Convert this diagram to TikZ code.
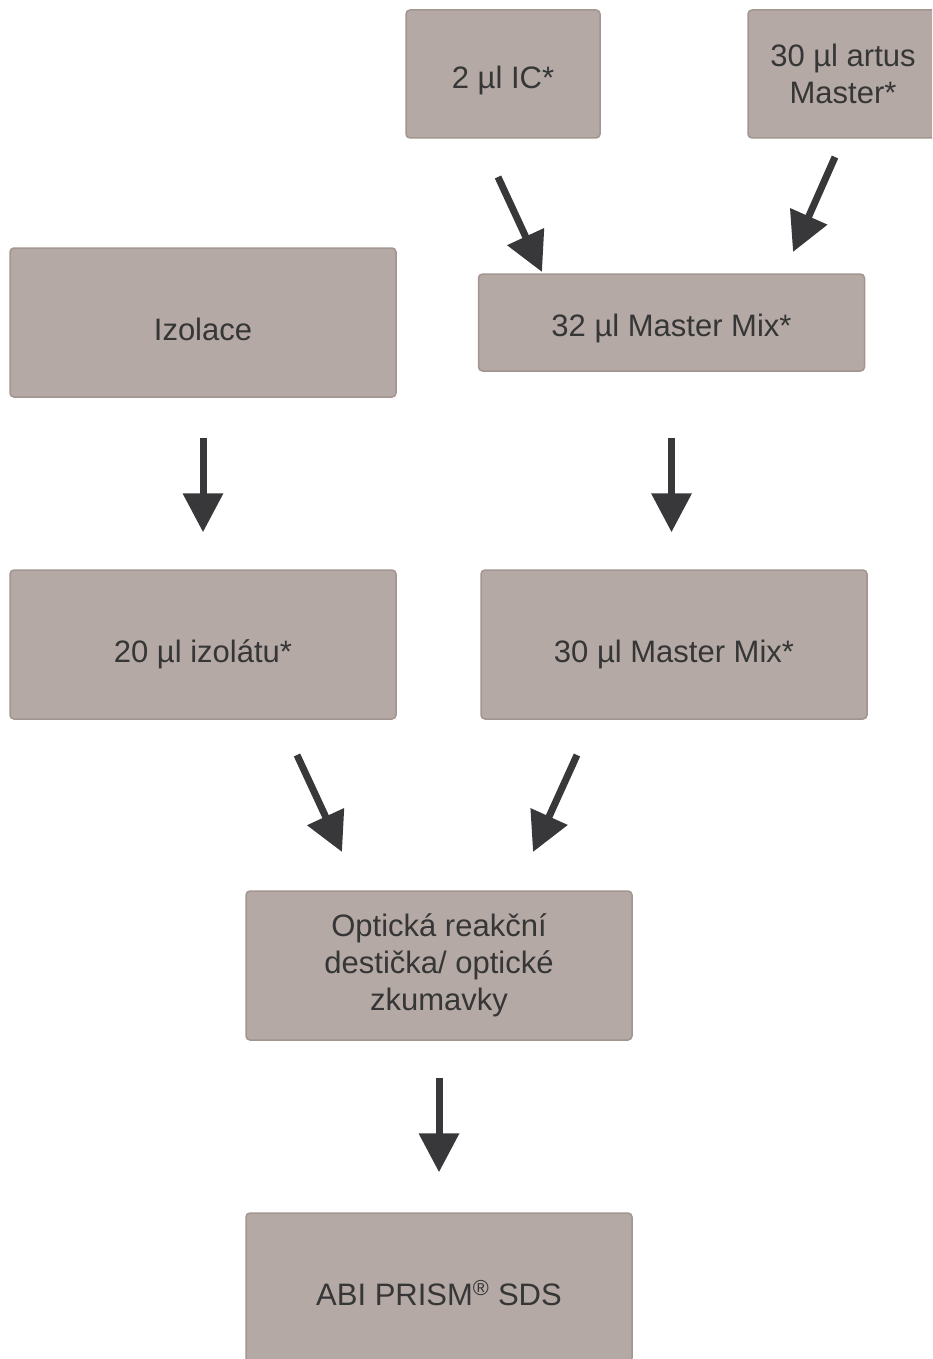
\documentclass[tikz,border=0pt]{standalone}
\usepackage{fontspec}
\setmainfont{Liberation Sans}
\usetikzlibrary{arrows.meta}
\definecolor{boxFill}{HTML}{B4A9A5}
\definecolor{boxLine}{HTML}{A3958F}
\definecolor{arrowGray}{HTML}{38383A}
\definecolor{textGray}{HTML}{363636}

\begin{document}
\begin{tikzpicture}[x=1pt, y=-1pt,
	stepbox/.style={draw=boxLine, fill=boxFill, line width=1.5pt, rounded corners=4pt, minimum width=386pt, minimum height=149pt, inner sep=0pt, align=center, text=textGray, font=\fontsize{31}{37}\selectfont},
	oneline/.style={text height=#1, text depth=0pt},
	flow/.style={-{Triangle[length=39pt, width=39pt]}, line width=7pt, draw=arrowGray, fill=arrowGray}]
\useasboundingbox (0,0) rectangle (932,1359);
\clip (0,0) rectangle (932,1359);

% Draw boxes
\node[stepbox, oneline=29pt, minimum width=194pt, minimum height=128pt] (ic) at (503,74) {2 µl IC*};
\node[stepbox, minimum width=190pt, minimum height=128pt] (artus) at (843,74) {30 µl artus\\Master*};
\node[stepbox, oneline=35pt] (izol) at (203,322.5) {Izolace};
\node[stepbox, oneline=28pt, minimum height=97pt] (mix) at (671.5,322.5) {32 µl Master Mix*};
\node[stepbox, oneline=35pt] (izolat) at (203,644.5) {20 µl izolátu*};
\node[stepbox, oneline=35pt] (mixb) at (674,644.5) {30 µl Master Mix*};
\node[stepbox] (plate) at (439,965.5) {Optická reakční\\destička/ optické\\zkumavky};
\node[stepbox, oneline=35pt] (sds) at (439,1287.5) {ABI PRISM\textsuperscript{®} SDS};

% Draw arrows
\coordinate (icTail) at (498,177);
\coordinate (icHead) at (542,272);
\coordinate (artusTail) at (835,157);
\coordinate (artusHead) at (793,252);
\coordinate (izolatTail) at (297,755);
\coordinate (izolatHead) at (342,852);
\coordinate (mixbTail) at (577,755);
\coordinate (mixbHead) at (533,852);
\draw[flow] (icTail) -- (icHead);
\draw[flow] (artusTail) -- (artusHead);
\draw[flow, shorten <=40pt, shorten >=37pt] (izol.south) -- (izolat.north);
\draw[flow, shorten <=66pt, shorten >=37pt] (mix.south) -- (mix.south |- mixb.north);
\draw[flow] (izolatTail) -- (izolatHead);
\draw[flow] (mixbTail) -- (mixbHead);
\draw[flow, shorten <=37pt, shorten >=40pt] (plate.south) -- (plate.south |- sds.north);
\end{tikzpicture}
\end{document}
